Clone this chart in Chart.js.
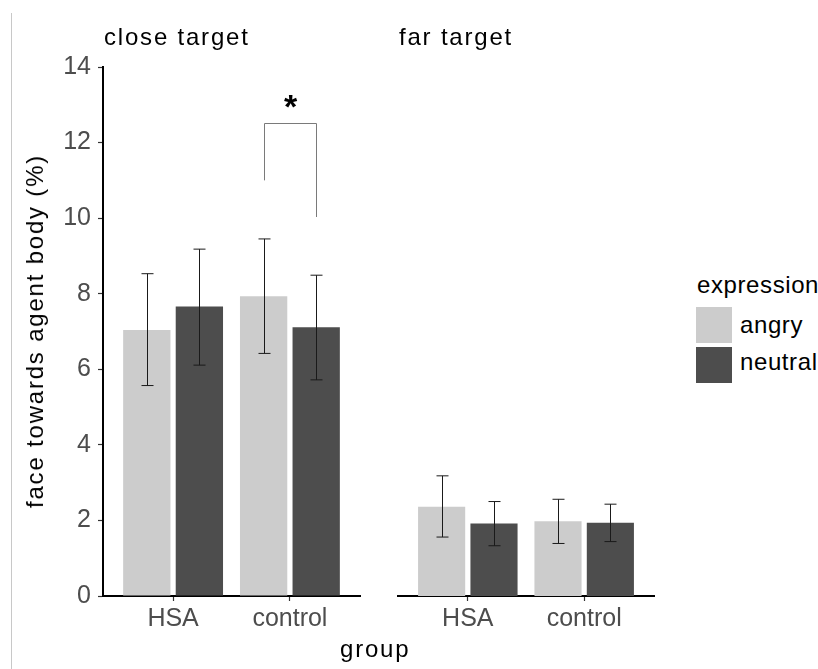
<!DOCTYPE html>
<html>
<head>
    <title>face towards agent body</title>
    <script src="https://cdn.jsdelivr.net/npm/chart.js"></script>
    <style>
        body { margin: 0; background: #fff; font-family: 'Liberation Sans', Arial, sans-serif; }
        .wrap { position: relative; width: 818px; height: 669px; overflow: hidden; }
        .wrap canvas { position: absolute; top: 0; }
        .txt { position: absolute; font-size: 24px; line-height: 24px; color: #000; white-space: nowrap; letter-spacing: 1.8px; }
        .edge { position: absolute; left: 11px; top: 13px; width: 1px; height: 656px; background: #c8c8c8; }
        .sw { position: absolute; width: 36px; height: 36px; }
    </style>
</head>
<body>
<div class="wrap">
    <div class="edge"></div>
    <div style="position:absolute;left:0;top:0;width:370px;height:669px"><canvas id="closeChart"></canvas></div>
    <div style="position:absolute;left:370px;top:0;width:320px;height:669px"><canvas id="farChart"></canvas></div>

    <div class="txt" style="left:104px;top:25px">close target</div>
    <div class="txt" style="left:399px;top:25px">far target</div>
    <div class="txt" style="left:340px;top:637px">group</div>
    <div class="txt" style="left:35px;top:331px;transform:translate(-50%,-50%) rotate(-90deg)">face towards agent body (%)</div>

    <div class="txt" style="left:697px;top:273px;letter-spacing:0.6px">expression</div>
    <div class="sw" style="left:696px;top:307px;background:#cccccc"></div>
    <div class="sw" style="left:696px;top:347px;background:#4d4d4d"></div>
    <div class="txt" style="left:740px;top:313px;letter-spacing:0.6px">angry</div>
    <div class="txt" style="left:740px;top:350px;letter-spacing:0.6px">neutral</div>
</div>

<script>
    // данные
    const groups = ['HSA', 'control'];
    const yTicks = [0, 2, 4, 6, 8, 10, 12, 14];

    const closeAngry = [7.04, 7.93];
    const closeAngryLo = [5.57, 6.42];
    const closeAngryHi = [8.53, 9.45];
    const closeNeutral = [7.66, 7.11];
    const closeNeutralLo = [6.11, 5.72];
    const closeNeutralHi = [9.18, 8.49];

    const farAngry = [2.36, 1.98];
    const farAngryLo = [1.56, 1.39];
    const farAngryHi = [3.18, 2.56];
    const farNeutral = [1.92, 1.94];
    const farNeutralLo = [1.33, 1.44];
    const farNeutralHi = [2.50, 2.43];

    // скобка значимости: группа control, angry vs neutral
    const bracketGroup = 1;
    const bracketLeft = 11.0;
    const bracketTop = 12.52;
    const bracketRight = 10.03;
    const bracketLabel = '*';

    const ANGRY = '#cccccc';
    const NEUTRAL = '#4d4d4d';
    const TICK_FONT = { family: "'Liberation Sans', Arial, sans-serif", size: 25 };

    const toXY = vals => vals.map((v, i) => ({ x: i + 1, y: v }));

    const errorBars = {
        id: 'errorBars',
        afterDatasetsDraw(chart) {
            const ctx = chart.ctx;
            const y = chart.scales.y;
            ctx.save();
            ctx.strokeStyle = '#1a1a1a';
            ctx.lineWidth = 1;
            chart.data.datasets.forEach((ds, d) => {
                chart.getDatasetMeta(d).data.forEach((bar, i) => {
                    const x = Math.round(bar.x) + 0.5;
                    const top = y.getPixelForValue(ds.errHi[i]);
                    const bot = y.getPixelForValue(ds.errLo[i]);
                    ctx.beginPath();
                    ctx.moveTo(x, top); ctx.lineTo(x, bot);
                    ctx.moveTo(x - 6, top); ctx.lineTo(x + 6, top);
                    ctx.moveTo(x - 6, bot); ctx.lineTo(x + 6, bot);
                    ctx.stroke();
                });
            });
            ctx.restore();
        }
    };

    const bracket = {
        id: 'bracket',
        afterDatasetsDraw(chart) {
            const ctx = chart.ctx;
            const y = chart.scales.y;
            const x1 = Math.round(chart.getDatasetMeta(0).data[bracketGroup].x) + 0.5;
            const x2 = Math.round(chart.getDatasetMeta(1).data[bracketGroup].x) + 0.5;
            const yt = Math.round(y.getPixelForValue(bracketTop)) + 0.5;
            ctx.save();
            ctx.strokeStyle = '#7a7a7a';
            ctx.lineWidth = 1;
            ctx.beginPath();
            ctx.moveTo(x1, y.getPixelForValue(bracketLeft));
            ctx.lineTo(x1, yt);
            ctx.lineTo(x2, yt);
            ctx.lineTo(x2, y.getPixelForValue(bracketRight));
            ctx.stroke();
            ctx.fillStyle = '#000';
            ctx.font = "bold 34px 'Liberation Sans', Arial, sans-serif";
            ctx.textAlign = 'center';
            ctx.textBaseline = 'alphabetic';
            ctx.fillText(bracketLabel, (x1 + x2) / 2, yt - 6);
            ctx.restore();
        }
    };

    function makeChart(id, angry, angryLo, angryHi, neutral, neutralLo, neutralHi, showY, padding, extra) {
        const ctx = document.getElementById(id).getContext('2d');
        return new Chart(ctx, {
            type: 'bar',
            data: {
                datasets: [{
                    label: 'angry',
                    data: toXY(angry),
                    errLo: angryLo,
                    errHi: angryHi,
                    backgroundColor: ANGRY,
                    borderWidth: 0
                }, {
                    label: 'neutral',
                    data: toXY(neutral),
                    errLo: neutralLo,
                    errHi: neutralHi,
                    backgroundColor: NEUTRAL,
                    borderWidth: 0
                }]
            },
            options: {
                responsive: true,
                maintainAspectRatio: false,
                animation: false,
                categoryPercentage: 0.9,
                barPercentage: 0.9,
                layout: { padding: padding },
                plugins: {
                    legend: { display: false },
                    tooltip: { enabled: false }
                },
                scales: {
                    x: {
                        type: 'linear',
                        min: 0.4,
                        max: 2.6,
                        offset: false,
                        afterBuildTicks: s => { s.ticks = groups.map((g, i) => ({ value: i + 1 })); },
                        afterFit: s => { s.height = 73; },
                        ticks: {
                            callback: v => groups[v - 1],
                            color: '#4d4d4d',
                            font: TICK_FONT,
                            padding: 3,
                            autoSkip: false,
                            maxRotation: 0
                        },
                        grid: {
                            offset: false,
                            drawOnChartArea: false,
                            drawTicks: true,
                            tickLength: 5,
                            tickColor: '#333',
                            tickWidth: 1.2
                        },
                        border: { display: true, color: '#000', width: 2 }
                    },
                    y: {
                        display: showY,
                        min: 0,
                        max: 14,
                        afterBuildTicks: s => { s.ticks = yTicks.map(v => ({ value: v })); },
                        afterFit: s => { s.width = showY ? 103 : 0; },
                        ticks: {
                            color: '#4d4d4d',
                            font: TICK_FONT,
                            padding: 7
                        },
                        grid: {
                            drawOnChartArea: false,
                            drawTicks: true,
                            tickLength: 5,
                            tickColor: '#333',
                            tickWidth: 1.2
                        },
                        border: { display: true, color: '#000', width: 2 }
                    }
                }
            },
            plugins: [errorBars].concat(extra)
        });
    }

    makeChart('closeChart', closeAngry, closeAngryLo, closeAngryHi,
        closeNeutral, closeNeutralLo, closeNeutralHi, true,
        { top: 67, right: 10, left: 0, bottom: 0 }, [bracket]);

    makeChart('farChart', farAngry, farAngryLo, farAngryHi,
        farNeutral, farNeutralLo, farNeutralHi, false,
        { top: 67, right: 36, left: 28, bottom: 0 }, []);
</script>
</body>
</html>
